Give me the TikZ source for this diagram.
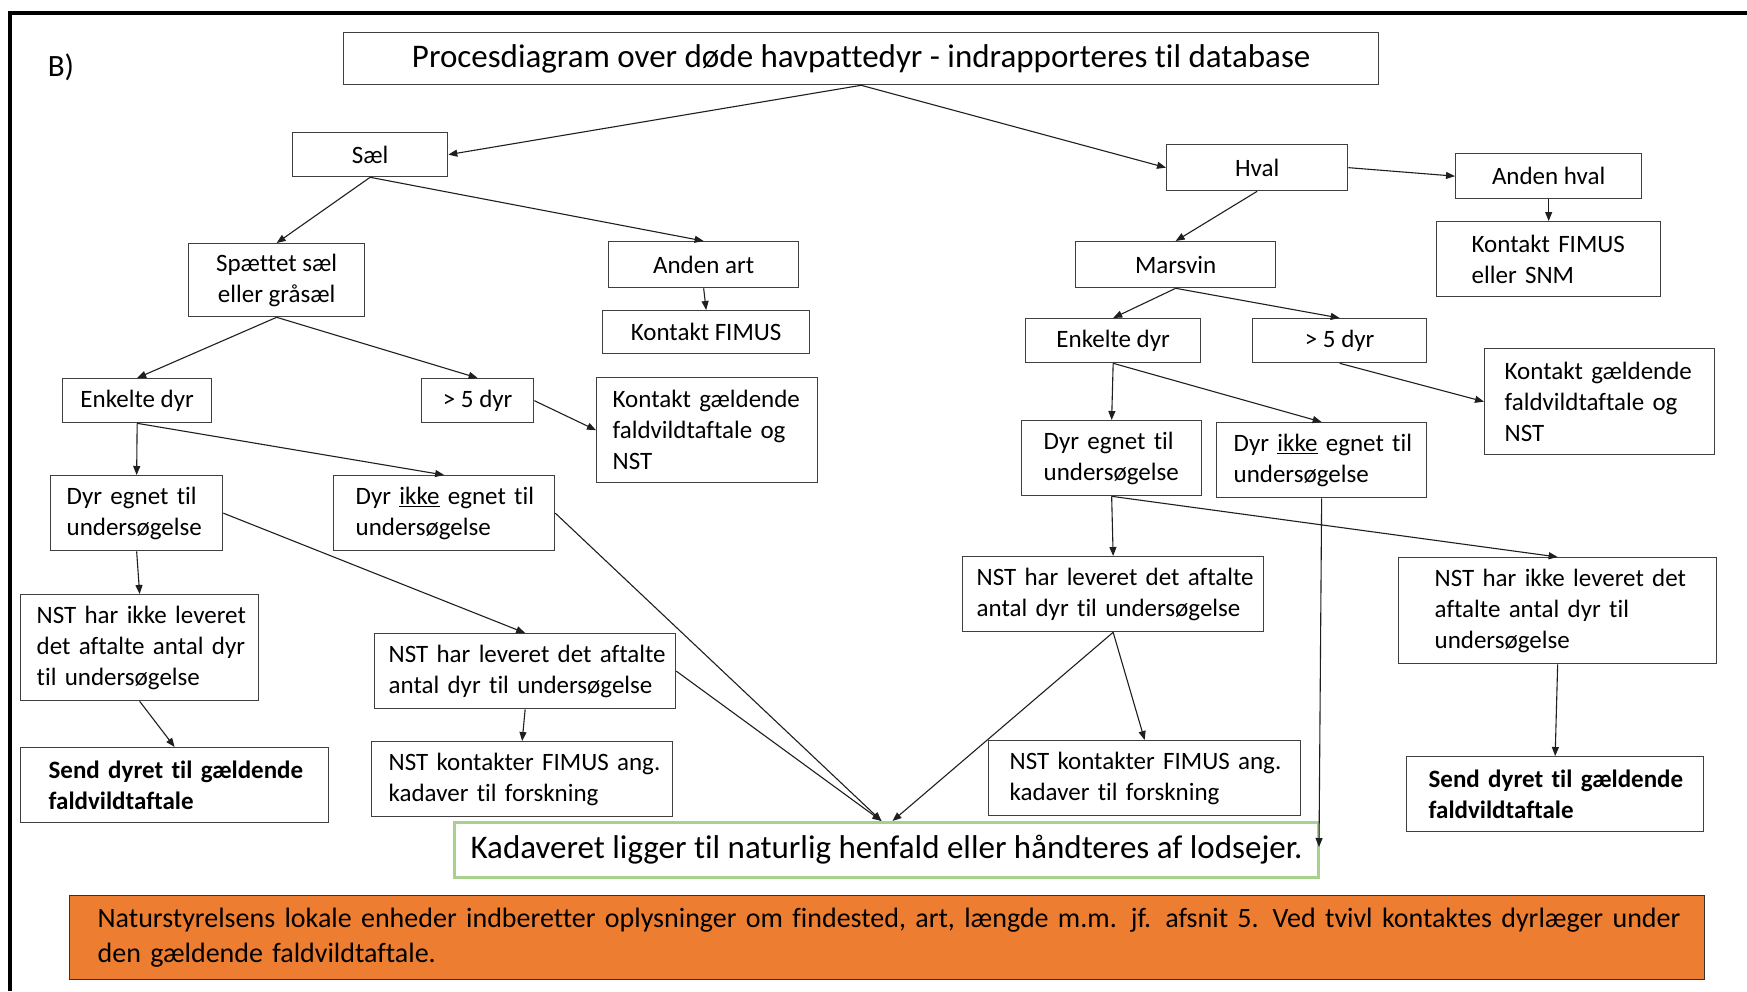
\documentclass[tikz,border=0pt]{standalone}
\usepackage{fontspec}
\setmainfont{Carlito}[Ligatures=NoCommon]
\usetikzlibrary{arrows.meta,calc}
\definecolor{boxc}{HTML}{3F3F3F}
\definecolor{kadgreen}{HTML}{A9D18E}
\definecolor{orng}{HTML}{ED7D31}
\newcommand{\ml}[1]{\mbox{#1}}
\newcommand{\bodyfont}{\fontsize{25}{31}\selectfont}
\begin{document}
\begin{tikzpicture}[x=1pt,y=-1pt,
  cbox/.style n args={2}{anchor=north west, draw=boxc, line width=1.3pt,
    minimum width=#1pt, minimum height=#2pt, inner sep=0pt, align=center, font=\bodyfont},
  lbox/.style n args={4}{anchor=north west, draw=boxc, line width=1.3pt,
    minimum width=#1pt, minimum height=#2pt, inner ysep=0pt, inner xsep=#3pt,
    text width=#4pt, align=left, font=\bodyfont},
  arr/.style={draw=black!88, line width=1.1pt, -{Triangle[length=9pt,width=7pt]}},
  bold/.append style={font=\bodyfont\bfseries}
]
\useasboundingbox (0,0) rectangle (1747,991);
\fill[white] (0,0) rectangle (1747,991);
% frame
\draw[line width=3.5pt] (10,991) -- (10,13) -- (1747,13);
\node[font=\fontsize{31}{36}\selectfont] (blabel) at (61,67) {B)};

% title
\node[cbox={1035}{52}, font=\fontsize{33}{39}\selectfont] (title) at (343,32)
  {Procesdiagram over døde havpattedyr - indrapporteres til database};

% left branch
\node[cbox={155}{44}] (sael) at (292,132) {Sæl};
\node[cbox={176}{73}] (spaet) at (188,243) {Spættet sæl\\eller gråsæl};
\node[cbox={190}{46}] (andenart) at (608,241) {Anden art};
\node[cbox={207}{43}] (kfimus) at (602,310) {Kontakt FIMUS};
\node[cbox={149}{44}] (enkL) at (62,378) {Enkelte dyr};
\node[cbox={112}{44}] (gt5L) at (421,378) {> 5 dyr};
\node[lbox={221}{105}{16}{189}] (kgL) at (596,377)
  {\ml{Kontakt gældende}\\\ml{faldvildtaftale og}\\\ml{NST}};
\node[lbox={172}{75}{16}{140}] (egnL) at (50,475)
  {\ml{Dyr egnet til}\\\ml{undersøgelse}};
\node[lbox={221}{75}{22}{177}] (ikkeL) at (333,475)
  {\ml{Dyr \underline{ikke} egnet til}\\\ml{undersøgelse}};
\node[lbox={238}{106}{16}{206}] (nstikkeL) at (20,594)
  {\ml{NST har ikke leveret}\\\ml{det aftalte antal dyr}\\\ml{til undersøgelse}};
\node[lbox={301}{75}{14}{273}] (nstlevL) at (374,633)
  {\ml{NST har leveret det aftalte}\\\ml{antal dyr til undersøgelse}};
\node[lbox={308}{75}{28}{252}, bold] (sendL) at (20,747)
  {\ml{Send dyret til gældende}\\\ml{faldvildtaftale}};
\node[lbox={301}{75}{17}{267}] (nstkontL) at (371,741)
  {\ml{NST kontakter FIMUS ang.}\\\ml{kadaver til forskning}};

% right branch
\node[cbox={181}{46}] (hval) at (1166,144) {Hval};
\node[cbox={186}{45}] (andenhval) at (1455,153) {Anden hval};
\node[lbox={224}{75}{35}{154}] (kfsnm) at (1436,221)
  {\ml{Kontakt FIMUS}\\\ml{eller SNM}};
\node[cbox={200}{46}] (marsvin) at (1075,241) {Marsvin};
\node[cbox={175}{44}] (enkR) at (1025,318) {Enkelte dyr};
\node[cbox={174}{44}] (gt5R) at (1252,318) {> 5 dyr};
\node[lbox={230}{106}{20}{190}] (kgR) at (1484,348)
  {\ml{Kontakt gældende}\\\ml{faldvildtaftale og}\\\ml{NST}};
\node[lbox={180}{75}{22}{136}] (egnR) at (1021,420)
  {\ml{Dyr egnet til}\\\ml{undersøgelse}};
\node[lbox={210}{75}{17}{176}] (ikkeR) at (1216,422)
  {\ml{Dyr \underline{ikke} egnet til}\\\ml{undersøgelse}};
\node[lbox={301}{75}{14}{273}] (nstlevR) at (962,556)
  {\ml{NST har leveret det aftalte}\\\ml{antal dyr til undersøgelse}};
\node[lbox={318}{106}{36}{246}] (nstikkeR) at (1398,557)
  {\ml{NST har ikke leveret det}\\\ml{aftalte antal dyr til}\\\ml{undersøgelse}};
\node[lbox={312}{75}{21}{270}] (nstkontR) at (988,740)
  {\ml{NST kontakter FIMUS ang.}\\\ml{kadaver til forskning}};
\node[lbox={297}{75}{22}{253}, bold] (sendR) at (1406,756)
  {\ml{Send dyret til gældende}\\\ml{faldvildtaftale}};

% bottom boxes
\node[anchor=north west, draw=kadgreen, line width=3pt, minimum width=864pt,
  minimum height=55pt, inner sep=0pt, font=\fontsize{33}{39}\selectfont] (kad) at (453,821)
  {Kadaveret ligger til naturlig henfald eller håndteres af lodsejer.};
\node[anchor=north west, draw=black!80, fill=orng, line width=1.3pt, minimum width=1635pt,
  minimum height=84pt, inner ysep=0pt, inner xsep=28pt, text width=1579pt, align=left,
  font=\fontsize{28}{35}\selectfont] (note) at (69,895)
  {\makebox[1579pt][s]{Naturstyrelsens lokale enheder indberetter oplysninger om findested, art, længde m.m. jf. afsnit 5. Ved tvivl kontaktes dyrlæger under}\\den gældende faldvildtaftale.};

\coordinate (kadL) at ($(kad.north)+(-5,0)$);
\coordinate (kadR) at ($(kad.north)+(6,0)$);
\coordinate (kadE) at ($(kad.north east)+(-1,26)$);

% connectors
\draw[arr] (title.south) -- (sael.east);
\draw[arr] (title.south) -- (hval.west);
\draw[arr] (sael.south) -- (spaet.north);
\draw[arr] (sael.south) -- (andenart.north);
\draw[arr] (andenart.south) -- (kfimus.north);
\draw[arr] (spaet.south) -- (enkL.north);
\draw[arr] (spaet.south) -- (gt5L.north);
\draw[arr] (gt5L.east) -- (kgL.west);
\draw[arr] (enkL.south) -- (egnL.north);
\draw[arr] (enkL.south) -- (ikkeL.north);
\draw[arr] (egnL.south) -- (nstikkeL.north);
\draw[arr] (egnL.east) -- (nstlevL.north);
\draw[arr] (ikkeL.east) -- (kadL);
\draw[arr] (nstlevL.east) -- (kadL);
\draw[arr] (nstlevL.south) -- (nstkontL.north);
\draw[arr] (nstikkeL.south) -- (sendL.north);
\draw[arr] (hval.east) -- (andenhval.west);
\draw[arr] (andenhval.south) -- (kfsnm.north);
\draw[arr] (hval.south) -- (marsvin.north);
\draw[arr] (marsvin.south) -- (enkR.north);
\draw[arr] (marsvin.south) -- (gt5R.north);
\draw[arr] (gt5R.south) -- (kgR.west);
\draw[arr] (enkR.south) -- (egnR.north);
\draw[arr] (enkR.south) -- (ikkeR.north);
\draw[arr] (egnR.south) -- (nstlevR.north);
\draw[arr] (egnR.south) -- (nstikkeR.north);
\draw[arr] (nstlevR.south) -- (kadR);
\draw[arr] (nstlevR.south) -- (nstkontR.north);
\draw[arr] (ikkeR.south) -- (kadE);
\draw[arr] (nstikkeR.south) -- (sendR.north);
\end{tikzpicture}
\end{document}
